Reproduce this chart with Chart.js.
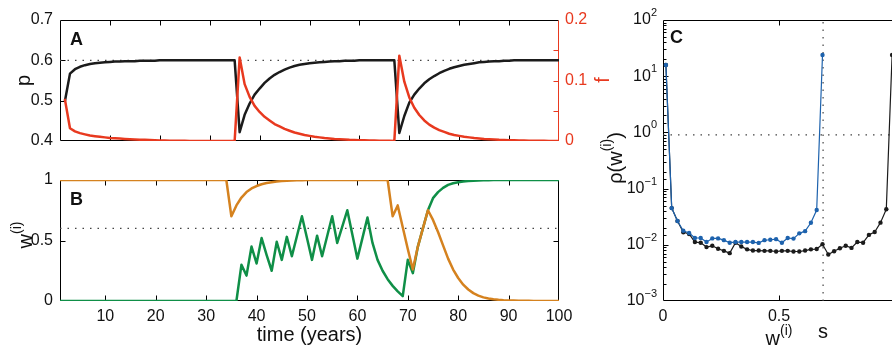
<!DOCTYPE html>
<html>
<head>
<meta charset="utf-8">
<script src="https://cdn.jsdelivr.net/npm/chart.js@4.4.1/dist/chart.umd.min.js"></script>
<style>
  html, body { margin: 0; padding: 0; background: #fff; overflow: hidden; }
  #wrap { position: relative; width: 892px; height: 352px; overflow: hidden; }
  canvas { position: absolute; }
  #chartA { left: 0; top: 0; }
  #chartB { left: 0; top: 160px; }
  #chartC { left: 600px; top: 0; }
</style>
</head>
<body>
<div id="wrap">
  <canvas id="chartA" width="625" height="160"></canvas>
  <canvas id="chartB" width="625" height="192"></canvas>
  <canvas id="chartC" width="320" height="352"></canvas>
</div>
<script>
// yearly time axis shared by panels A and B
const years = Array.from({ length: 100 }, (_, i) => i + 1);

// panel A: p (left axis) and f (right axis)
const pValues = [
  0.500, 0.567, 0.578, 0.584, 0.588, 0.591, 0.593, 0.594, 0.595, 0.596,
  0.597, 0.597, 0.598, 0.598, 0.598, 0.599, 0.599, 0.599, 0.599, 0.600,
  0.600, 0.600, 0.600, 0.600, 0.600, 0.600, 0.600, 0.600, 0.600, 0.600,
  0.600, 0.600, 0.600, 0.600, 0.600, 0.422, 0.465, 0.493, 0.515, 0.530,
  0.544, 0.555, 0.564, 0.571, 0.577, 0.582, 0.586, 0.589, 0.591, 0.593,
  0.594, 0.595, 0.596, 0.597, 0.598, 0.598, 0.599, 0.599, 0.599, 0.600,
  0.600, 0.600, 0.600, 0.600, 0.600, 0.600, 0.600, 0.420, 0.462, 0.495,
  0.515, 0.530, 0.543, 0.553, 0.561, 0.568, 0.574, 0.579, 0.583, 0.586,
  0.589, 0.591, 0.593, 0.595, 0.596, 0.597, 0.598, 0.598, 0.599, 0.599,
  0.600, 0.600, 0.600, 0.600, 0.600, 0.600, 0.600, 0.600, 0.600, 0.600
];
const fValues = [
  0.068, 0.021, 0.016, 0.013, 0.011, 0.009, 0.008, 0.007, 0.006, 0.005,
  0.0045, 0.004, 0.0035, 0.003, 0.0026, 0.0022, 0.0019, 0.0016, 0.0013, 0.001,
  0.0008, 0.0006, 0.0005, 0.0004, 0.0003, 0.0002, 0.0002, 0.0001, 0.0001, 0,
  0, 0, 0, 0, 0, 0.138, 0.094, 0.073, 0.058, 0.048,
  0.040, 0.034, 0.028, 0.024, 0.020, 0.017, 0.014, 0.012, 0.010, 0.0085,
  0.007, 0.006, 0.005, 0.0042, 0.0035, 0.003, 0.0025, 0.002, 0.0017, 0.0014,
  0.0012, 0.001, 0.0008, 0.0006, 0.0004, 0.0003, 0, 0.141, 0.098, 0.072,
  0.055, 0.043, 0.034, 0.027, 0.022, 0.018, 0.015, 0.012, 0.010, 0.0085,
  0.007, 0.006, 0.005, 0.0042, 0.0035, 0.003, 0.0025, 0.002, 0.0017, 0.0014,
  0.0012, 0.001, 0.0008, 0.0006, 0.0005, 0.0004, 0.0003, 0.0002, 0.0002, 0.0001
];
const pThreshold = 0.6;

// panel B: w(i) of two individuals
const wOrange = [
  1, 1, 1, 1, 1, 1, 1, 1, 1, 1,
  1, 1, 1, 1, 1, 1, 1, 1, 1, 1,
  1, 1, 1, 1, 1, 1, 1, 1, 1, 1,
  1, 1, 1, 1, 0.70, 0.79, 0.855, 0.90, 0.93, 0.95,
  0.965, 0.975, 0.982, 0.987, 0.991, 0.994, 0.996, 0.997, 0.998, 0.999,
  1, 1, 1, 1, 1, 1, 1, 1, 1, 1,
  1, 1, 1, 1, 1, 1, 0.70, 0.79, 0.61, 0.43,
  0.26, 0.45, 0.60, 0.75, 0.67, 0.57, 0.46, 0.35, 0.26, 0.19,
  0.135, 0.095, 0.065, 0.045, 0.030, 0.020, 0.014, 0.010, 0.007, 0.005,
  0.0035, 0.0025, 0.002, 0.0015, 0.001, 0.001, 0.0005, 0.0005, 0, 0
];
const wGreen = [
  0, 0, 0, 0, 0, 0, 0, 0, 0, 0,
  0, 0, 0, 0, 0, 0, 0, 0, 0, 0,
  0, 0, 0, 0, 0, 0, 0, 0, 0, 0,
  0, 0, 0, 0, 0, 0, 0.30, 0.21, 0.45, 0.31,
  0.52, 0.38, 0.25, 0.49, 0.34, 0.53, 0.37, 0.535, 0.70, 0.52,
  0.34, 0.54, 0.37, 0.535, 0.70, 0.48, 0.615, 0.75, 0.55, 0.35,
  0.52, 0.69, 0.48, 0.34, 0.25, 0.18, 0.125, 0.08, 0.04, 0.34,
  0.23, 0.45, 0.60, 0.75, 0.85, 0.90, 0.935, 0.96, 0.973, 0.982,
  0.988, 0.992, 0.994, 0.996, 0.997, 0.998, 0.999, 1, 1, 1,
  1, 1, 1, 1, 1, 1, 1, 1, 1, 1
];
const wThreshold = 0.6;

// panel C: densities over w(i) bins
const wBins = [
  0.0125, 0.0375, 0.0625, 0.0875, 0.1125, 0.1375, 0.1625, 0.1875, 0.2125, 0.2375,
  0.2625, 0.2875, 0.3125, 0.3375, 0.3625, 0.3875, 0.4125, 0.4375, 0.4625, 0.4875,
  0.5125, 0.5375, 0.5625, 0.5875, 0.6125, 0.6375, 0.6625, 0.6875, 0.7125, 0.7375,
  0.7625, 0.7875, 0.8125, 0.8375, 0.8625, 0.8875, 0.9125, 0.9375, 0.9625, 0.9875
];
const rhoBlue = [
  15.8, 0.045, 0.0265, 0.0178, 0.0162, 0.0132, 0.0132, 0.0112, 0.0130, 0.0130,
  0.0121, 0.0109, 0.0112, 0.0112, 0.0112, 0.0112, 0.0108, 0.0121, 0.0123, 0.0126,
  0.0109, 0.0132, 0.0129, 0.0160, 0.0175, 0.0247, 0.0415, 23.8
];
const rhoBlack = [
  15.8, 0.045, 0.0265, 0.0167, 0.0156, 0.0112, 0.0109, 0.0091, 0.0096, 0.0085,
  0.0078, 0.0071, 0.0109, 0.0093, 0.0083, 0.0079, 0.0079, 0.0078, 0.0078, 0.0076,
  0.0078, 0.0078, 0.0076, 0.0076, 0.0079, 0.0083, 0.0084, 0.0102, 0.0067, 0.0077,
  0.0087, 0.0096, 0.0088, 0.0112, 0.0109, 0.0150, 0.0169, 0.0248, 0.0430, 23.8
];
const sValue = 0.69;
const rhoRef = 0.9;

// ticks
const timeTicks = [10, 20, 30, 40, 50, 60, 70, 80, 90, 100];
const timeTickLabels = ['10', '20', '30', '40', '50', '60', '70', '80', '90', '100'];
const pTicks = [0.4, 0.5, 0.6, 0.7];
const pTickLabels = ['0.4', '0.5', '0.6', '0.7'];
const fTicks = [0, 0.05, 0.1, 0.15, 0.2];
const fTickLabels = ['0', '', '0.1', '', '0.2'];
const wTicks = [0, 0.5, 1];
const wTickLabels = ['0', '0.5', '1'];
const binTicks = [0, 0.5];
const binTickLabels = ['0', '0.5'];
const rhoTicks = [1e-3, 1e-2, 1e-1, 1, 10, 100];
const rhoTickExps = ['\u22123', '\u22122', '\u22121', '0', '1', '2'];

const FONT = "'Liberation Sans', Arial, Helvetica, sans-serif";
const RED = '#e8391f', BLACK = '#1b1b1b', ORANGE = '#d5821f', GREEN = '#0f8f47', BLUE = '#1d62ad', DOT = '#444';

Chart.defaults.font.family = FONT;
Chart.defaults.font.size = 16;
Chart.defaults.color = '#111';
Chart.defaults.animation = false;
Chart.defaults.responsive = false;
Chart.defaults.plugins.legend.display = false;
Chart.defaults.plugins.tooltip.enabled = false;
Chart.defaults.elements.point.radius = 0;
Chart.defaults.elements.line.tension = 0;
Chart.defaults.elements.line.borderJoinStyle = 'round';
Chart.defaults.elements.line.borderCapStyle = 'round';

const pts = (xs, ys) => ys.map((y, i) => ({ x: xs[i], y }));
const hline = (x0, x1, y) => [{ x: x0, y }, { x: x1, y }];
const vline = (x, y0, y1) => [{ x, y: y0 }, { x, y: y1 }];
const fixSize = n => s => { if (s.isHorizontal()) s.height = n; else s.width = n; };
const useTicks = vals => s => { s.ticks = vals.map(v => ({ value: v })); };
const labelsFor = (vals, labels) => v => {
  const i = vals.findIndex(t => Math.abs(t - v) < 1e-9);
  return i < 0 ? '' : labels[i];
};
const noGrid = { display: false, drawTicks: false };
const noBorder = { display: false };
const dotted = { borderColor: DOT, borderWidth: 1.2, borderDash: [1.5, 6], borderCapStyle: 'butt' };

// box around the plot area, MATLAB style
function drawEdges(chart, rightColor) {
  const { ctx, chartArea: a } = chart;
  const L = Math.round(a.left) + 0.5, R = Math.round(a.right) - 0.5;
  const T = Math.round(a.top) + 0.5, B = Math.round(a.bottom) - 0.5;
  ctx.save();
  ctx.lineWidth = 1;
  ctx.strokeStyle = '#000';
  ctx.beginPath();
  ctx.moveTo(R, T); ctx.lineTo(L, T); ctx.lineTo(L, B); ctx.lineTo(R, B);
  ctx.stroke();
  ctx.strokeStyle = rightColor || '#000';
  ctx.beginPath();
  ctx.moveTo(R, T); ctx.lineTo(R, B);
  ctx.stroke();
  ctx.restore();
}

// inward tick marks
function drawTicks(chart, id, sides, color, minor) {
  const { ctx, chartArea: a } = chart;
  const sc = chart.scales[id];
  const L = Math.round(a.left) + 0.5, R = Math.round(a.right) - 0.5;
  const T = Math.round(a.top) + 0.5, B = Math.round(a.bottom) - 0.5;
  ctx.save();
  ctx.lineWidth = 1;
  ctx.strokeStyle = color || '#000';
  ctx.beginPath();
  sc.ticks.forEach(t => {
    const e = Math.log10(t.value);
    const len = minor && Math.abs(e - Math.round(e)) > 1e-6 ? 3 : 5;
    const p = Math.round(sc.getPixelForValue(t.value)) + 0.5;
    if (sc.isHorizontal()) {
      if (p <= L + 1 || p >= R - 1) return;
      if (sides.includes('b')) { ctx.moveTo(p, B); ctx.lineTo(p, B - len); }
      if (sides.includes('t')) { ctx.moveTo(p, T); ctx.lineTo(p, T + len); }
    } else {
      if (p <= T + 1 || p >= B - 1) return;
      if (sides.includes('l')) { ctx.moveTo(L, p); ctx.lineTo(L + len, p); }
      if (sides.includes('r')) { ctx.moveTo(R, p); ctx.lineTo(R - len, p); }
    }
  });
  ctx.stroke();
  ctx.restore();
}

// text with superscript parts: [text, size, rise]
function supText(ctx, parts, x, y, align) {
  const widths = parts.map(([t, s]) => { ctx.font = s + 'px ' + FONT; return ctx.measureText(t).width; });
  const total = widths.reduce((a, b) => a + b, 0);
  let cx = align === 'right' ? x - total : align === 'center' ? x - total / 2 : x;
  ctx.textAlign = 'left';
  parts.forEach(([t, s, rise], i) => {
    ctx.font = s + 'px ' + FONT;
    ctx.fillText(t, cx, y - rise);
    cx += widths[i];
  });
}

function panelLetter(chart, letter, dx, dy) {
  const { ctx, chartArea: a } = chart;
  ctx.save();
  ctx.fillStyle = '#111';
  ctx.font = 'bold 18px ' + FONT;
  ctx.textBaseline = 'alphabetic';
  ctx.textAlign = 'left';
  ctx.fillText(letter, a.left + dx, a.top + dy);
  ctx.restore();
}

// ---------- panel A ----------
new Chart(document.getElementById('chartA'), {
  type: 'line',
  data: {
    datasets: [
      { data: pts(years, fValues), yAxisID: 'y1', borderColor: RED, borderWidth: 2.5 },
      { data: pts(years, pValues), yAxisID: 'y', borderColor: BLACK, borderWidth: 2.5 },
      { data: hline(0, 100, pThreshold), yAxisID: 'y', ...dotted }
    ]
  },
  options: {
    layout: { padding: { top: 20, right: 0, left: 0, bottom: 0 } },
    scales: {
      x: {
        type: 'linear', min: 0, max: 100,
        afterBuildTicks: useTicks(timeTicks), afterFit: fixSize(19),
        ticks: { display: false }, grid: noGrid, border: noBorder
      },
      y: {
        type: 'linear', min: 0.4, max: 0.7,
        afterBuildTicks: useTicks(pTicks), afterFit: fixSize(60),
        ticks: { padding: 7, callback: labelsFor(pTicks, pTickLabels) },
        grid: noGrid, border: noBorder,
        title: { display: true, text: 'p', font: { size: 20 }, color: '#111', padding: { top: 12, bottom: 0 } }
      },
      y1: {
        type: 'linear', position: 'right', min: 0, max: 0.2,
        afterBuildTicks: useTicks(fTicks), afterFit: fixSize(66),
        ticks: { padding: 6, color: RED, callback: labelsFor(fTicks, fTickLabels) },
        grid: noGrid, border: noBorder
      }
    }
  },
  plugins: [{
    id: 'decorA',
    beforeDatasetsDraw(chart) {
      drawEdges(chart, RED);
      drawTicks(chart, 'x', 'tb');
      drawTicks(chart, 'y', 'l');
      drawTicks(chart, 'y1', 'r', RED);
    },
    afterDraw(chart) {
      panelLetter(chart, 'A', 10, 25);
      const ctx = chart.ctx;
      ctx.save();
      ctx.fillStyle = RED;
      ctx.font = '20px ' + FONT;
      ctx.textAlign = 'center';
      ctx.textBaseline = 'middle';
      ctx.translate(603, 80);
      ctx.rotate(-Math.PI / 2);
      ctx.fillText('f', 0, 0);
      ctx.restore();
    }
  }]
});

// ---------- panel B ----------
new Chart(document.getElementById('chartB'), {
  type: 'line',
  data: {
    datasets: [
      { data: pts(years, wOrange), borderColor: ORANGE, borderWidth: 2.5 },
      { data: pts(years, wGreen), borderColor: GREEN, borderWidth: 2.5 },
      { data: hline(1, 100, wThreshold), ...dotted }
    ]
  },
  options: {
    layout: { padding: { top: 20, right: 66, left: 0, bottom: 0 } },
    scales: {
      x: {
        type: 'linear', min: 1, max: 100,
        afterBuildTicks: useTicks(timeTicks), afterFit: fixSize(51),
        ticks: { padding: 6, autoSkip: false, maxRotation: 0, callback: labelsFor(timeTicks, timeTickLabels) },
        grid: noGrid, border: noBorder,
        title: { display: true, text: 'time (years)', font: { size: 20 }, color: '#111', padding: { top: 0, bottom: 5 } }
      },
      y: {
        type: 'linear', min: 0, max: 1,
        afterBuildTicks: useTicks(wTicks), afterFit: fixSize(60),
        ticks: { padding: 7, callback: labelsFor(wTicks, wTickLabels) },
        grid: noGrid, border: noBorder
      }
    }
  },
  plugins: [{
    id: 'decorB',
    beforeDatasetsDraw(chart) {
      drawEdges(chart);
      drawTicks(chart, 'x', 'tb');
      drawTicks(chart, 'y', 'lr');
    },
    afterDraw(chart) {
      panelLetter(chart, 'B', 10, 25);
      const ctx = chart.ctx;
      ctx.save();
      ctx.fillStyle = '#111';
      ctx.textBaseline = 'alphabetic';
      ctx.translate(0, 75);
      ctx.rotate(-Math.PI / 2);
      supText(ctx, [['w', 20, 0], ['(i)', 14, 11]], 0, 32, 'center');
      ctx.restore();
    }
  }]
});

// ---------- panel C ----------
new Chart(document.getElementById('chartC'), {
  type: 'line',
  data: {
    datasets: [
      { data: pts(wBins, rhoBlue), borderColor: BLUE, borderWidth: 1.2, pointRadius: 2.2, pointBorderWidth: 0, pointBackgroundColor: BLUE },
      { data: pts(wBins, rhoBlack), borderColor: BLACK, borderWidth: 1.2, pointRadius: 2.2, pointBorderWidth: 0, pointBackgroundColor: BLACK },
      { data: hline(0, 1, rhoRef), ...dotted },
      { data: vline(sValue, 1e-3, 1e2), ...dotted }
    ]
  },
  options: {
    layout: { padding: { top: 20, right: 25, left: 0, bottom: 0 } },
    scales: {
      x: {
        type: 'linear', min: 0, max: 1,
        afterBuildTicks: useTicks(binTicks), afterFit: fixSize(51),
        ticks: { padding: 6, autoSkip: false, maxRotation: 0, callback: labelsFor(binTicks, binTickLabels) },
        grid: noGrid, border: noBorder
      },
      y: {
        type: 'logarithmic', min: 1e-3, max: 1e2,
        afterFit: fixSize(63),
        ticks: { display: false, autoSkip: false },
        grid: noGrid, border: noBorder
      }
    }
  },
  plugins: [{
    id: 'decorC',
    beforeDatasetsDraw(chart) {
      drawEdges(chart);
      drawTicks(chart, 'x', 'tb');
      drawTicks(chart, 'y', 'l', '#000', true);
    },
    afterDraw(chart) {
      panelLetter(chart, 'C', 7, 23);
      const { ctx, chartArea: a, scales } = chart;
      ctx.save();
      ctx.fillStyle = '#111';
      // log tick labels 10^n
      ctx.textBaseline = 'middle';
      rhoTicks.forEach((v, i) => {
        const py = scales.y.getPixelForValue(v);
        supText(ctx, [['10', 16, 0], [rhoTickExps[i], 11, 7]], a.left - 6, py, 'right');
      });
      // x title and s marker
      ctx.textBaseline = 'alphabetic';
      supText(ctx, [['w', 20, 0], ['(i)', 14, 10]], (a.left + a.right) / 2, 345, 'center');
      ctx.font = '20px ' + FONT;
      ctx.textAlign = 'center';
      ctx.fillText('s', scales.x.getPixelForValue(sValue), 338);
      // y title
      ctx.translate(0, 158);
      ctx.rotate(-Math.PI / 2);
      supText(ctx, [['\u03c1(w', 20, 0], ['(i)', 14, 11], [')', 20, 0]], 0, 22, 'center');
      ctx.restore();
    }
  }]
});
</script>
</body>
</html>
